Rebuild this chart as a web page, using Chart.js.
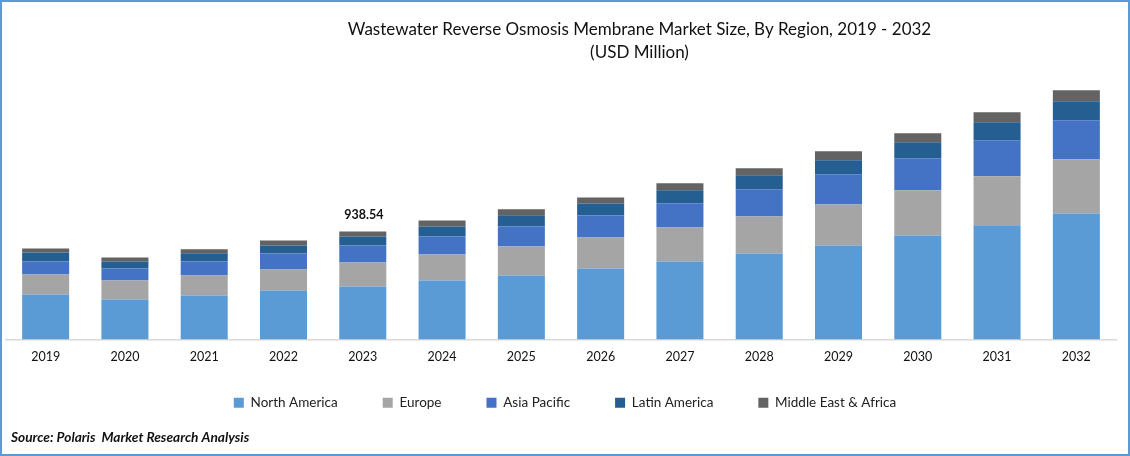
<!DOCTYPE html>
<html><head><meta charset="utf-8">
<style>
html,body{margin:0;padding:0;background:#fff}
#wrap{position:relative;width:1130px;height:456px;overflow:hidden;background:#fff}
#wrap canvas{position:absolute;left:0;top:0}
#frame{position:absolute;left:0;top:0;width:1126px;height:452px;border:2px solid #5B9BD5;pointer-events:none}
</style>
<script src="https://cdn.jsdelivr.net/npm/chart.js@4/dist/chart.umd.min.js"></script>
</head><body>
<div id="wrap"><canvas id="c" width="1130" height="456"></canvas><div id="frame"></div></div>
<script>
const categories=["2019","2020","2021","2022","2023","2024","2025","2026","2027","2028","2029","2030","2031","2032"];
const northAmerica=[391,348,382,426,461,513,556,617,678,747,817,904,991,1095];
const europe=[174,165,174,182,208,226,252,269,295,322,356,391,426,469];
const asiaPacific=[113,104,122,139,148,156,174,191,209,235,261,278,313,339];
const latinAmerica=[78,61,70,70,78,87,96,104,113,122,122,139,156,165];
const middleEastAfrica=[35,35,35,43,43.54,52,52,52,61,61,78,78,87,96];
const seriesNames=["North America","Europe","Asia Pacific","Latin America","Middle East & Africa"];
const seriesColors=["#5B9BD5","#A5A5A5","#4472C4","#255E91","#636363"];
const seriesValues=[northAmerica,europe,asiaPacific,latinAmerica,middleEastAfrica];
const titleLines=["Wastewater Reverse Osmosis Membrane Market Size, By Region, 2019 - 2032","(USD Million)"];
const sourceText="Source: Polaris  Market Research Analysis";
const annotatedYear="2023", annotatedText="938.54";
const FONT="Lato,'Open Sans',sans-serif";

const extras={id:"extras",
 afterLayout(ch){
  ch.titleBlock.left+=78.5;ch.titleBlock.right+=78.5;
  const d=351-ch.legend.top;
  ch.legend.top+=d;ch.legend.bottom+=d;
  ch.legend.left+=4;ch.legend.right+=4;
 },
 afterDraw(ch){
  const c=ch.ctx,i=categories.indexOf(annotatedYear);
  const top=ch.getDatasetMeta(4).data[i];
  c.save();
  c.fillStyle="#111";c.font="bold 12.5px "+FONT;c.textAlign="center";c.textBaseline="alphabetic";
  c.fillText(annotatedText,top.x+1,top.y-12);
  c.font="italic bold 13.7px "+FONT;c.textAlign="left";
  c.fillText(sourceText,11,442);
  c.restore();
 }};
new Chart(document.getElementById("c"),{
  type:"bar",
  data:{labels:categories,datasets:seriesNames.map((n,i)=>({label:n,data:seriesValues[i],backgroundColor:seriesColors[i],stack:"s",categoryPercentage:1,barPercentage:0.593}))},
  plugins:[extras],
  options:{
    responsive:false,animation:false,
    layout:{padding:{left:6,right:14,top:18,bottom:13}},
    plugins:{
      title:{display:true,text:titleLines,color:"#111",font:{family:FONT,size:17,weight:"normal",lineHeight:1.353},padding:{top:0,bottom:6}},
      legend:{position:"bottom",labels:{color:"#222",boxWidth:10,boxHeight:10,padding:45,font:{family:FONT,size:13.5}}},
      tooltip:{enabled:false}
    },
    scales:{
      x:{stacked:true,grid:{display:false,drawTicks:false},border:{color:"#D9D9D9",width:1.5},ticks:{color:"#111",padding:10,font:{family:FONT,size:12.5},maxRotation:0}},
      y:{stacked:true,display:false,min:0,max:2340}
    }
  }
});
</script></body></html>
